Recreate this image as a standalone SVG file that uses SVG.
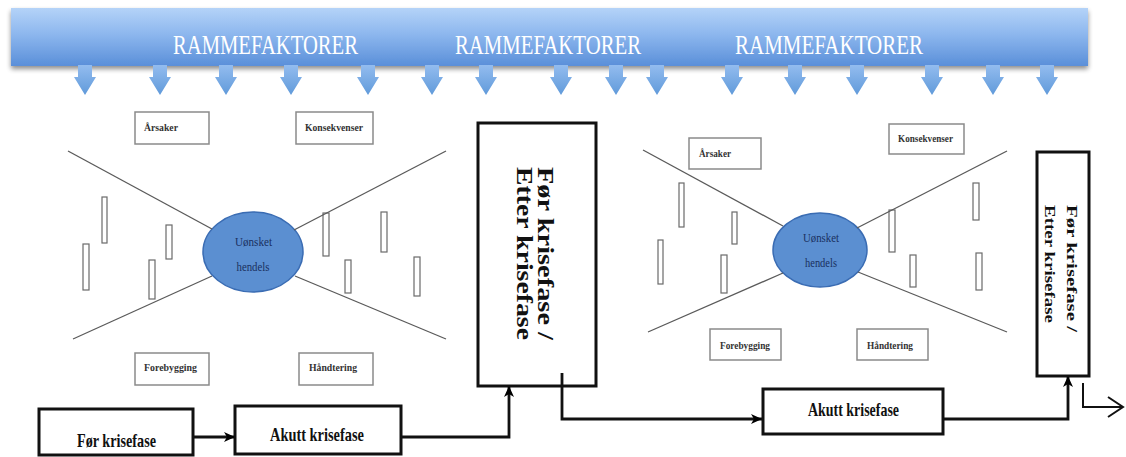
<svg xmlns="http://www.w3.org/2000/svg" width="1126" height="457" viewBox="0 0 1126 457">
<defs>
<linearGradient id="bannerGrad" x1="0" y1="0" x2="0" y2="1">
<stop offset="0" stop-color="#b4d3f8"/>
<stop offset="0.45" stop-color="#8db7ee"/>
<stop offset="1" stop-color="#5a8fd9"/>
</linearGradient>
<linearGradient id="arrowGrad" x1="0" y1="0" x2="0" y2="1">
<stop offset="0" stop-color="#93bcef"/>
<stop offset="1" stop-color="#609ada"/>
</linearGradient>
<filter id="shadow" x="-5%" y="-20%" width="110%" height="150%">
<feGaussianBlur in="SourceAlpha" stdDeviation="2.5"/>
<feOffset dx="0" dy="3" result="b"/>
<feComponentTransfer><feFuncA type="linear" slope="0.45"/></feComponentTransfer>
<feMerge><feMergeNode/><feMergeNode in="SourceGraphic"/></feMerge>
</filter>
<marker id="ah" markerUnits="userSpaceOnUse" markerWidth="12" markerHeight="12" viewBox="0 0 12 12" refX="11" refY="6" orient="auto">
<path d="M0,1 L11,6 L0,11 L3,6 z" fill="#000"/>
</marker>
<path id="dArrow" d="M-7,0 h14 v12 h4 l-11,18 l-11,-18 h4 z"/>
</defs>
<style>
.ban{font-family:"Liberation Serif",serif;font-size:28px;fill:#ffffff}
.sbox{fill:#fff;stroke:#8a8a8a;stroke-width:1.5}
.slab{font-family:"Liberation Serif",serif;font-weight:bold;font-size:10.5px;fill:#333}
.bar{fill:#fff;stroke:#6a6a6a;stroke-width:1.2}
.ell{fill:#5b8fd1;stroke:#3a6cb3;stroke-width:1.5}
.elab{font-family:"Liberation Serif",serif;font-size:12.5px;fill:#1a3060;text-anchor:middle}
.big{fill:#fff;stroke:#111;stroke-width:3}
.blab{font-family:"Liberation Serif",serif;font-weight:bold;font-size:19px;fill:#111}
.vlab{font-family:"Liberation Serif",serif;font-weight:bold;fill:#111}
.bow{fill:none;stroke:#5a5a5a;stroke-width:1.3}
.flow{fill:none;stroke:#111;stroke-width:2.8}
.thin{fill:none;stroke:#111;stroke-width:2}
</style>

<g id="banner">
<rect x="11" y="8" width="1077" height="58" fill="url(#bannerGrad)" filter="url(#shadow)"/>
<text class="ban" x="173" y="54" textLength="185" lengthAdjust="spacingAndGlyphs">RAMMEFAKTORER</text>
<text class="ban" x="455" y="54" textLength="186" lengthAdjust="spacingAndGlyphs">RAMMEFAKTORER</text>
<text class="ban" x="735" y="54" textLength="188" lengthAdjust="spacingAndGlyphs">RAMMEFAKTORER</text>
<g fill="url(#arrowGrad)">
<use href="#dArrow" x="85" y="65"/>
<use href="#dArrow" x="160" y="65"/>
<use href="#dArrow" x="226" y="65"/>
<use href="#dArrow" x="291" y="65"/>
<use href="#dArrow" x="368" y="65"/>
<use href="#dArrow" x="432" y="65"/>
<use href="#dArrow" x="486" y="65"/>
<use href="#dArrow" x="561" y="65"/>
<use href="#dArrow" x="616" y="65"/>
<use href="#dArrow" x="657" y="65"/>
<use href="#dArrow" x="732" y="65"/>
<use href="#dArrow" x="795" y="65"/>
<use href="#dArrow" x="857" y="65"/>
<use href="#dArrow" x="932" y="65"/>
<use href="#dArrow" x="993" y="65"/>
<use href="#dArrow" x="1047" y="65"/>
</g>
</g>

<!-- Left bowtie -->
<g id="arsaker-1"><rect class="sbox" x="135" y="112" width="74" height="32"/><text class="slab" x="144" y="131" textLength="34" lengthAdjust="spacingAndGlyphs">Årsaker</text></g>
<g id="konsekvenser-1"><rect class="sbox" x="296" y="112" width="77" height="32"/><text class="slab" x="305" y="131" textLength="58" lengthAdjust="spacingAndGlyphs">Konsekvenser</text></g>
<g id="forebygging-1"><rect class="sbox" x="135" y="353" width="74" height="32"/><text class="slab" x="144" y="371" textLength="53" lengthAdjust="spacingAndGlyphs">Forebygging</text></g>
<g id="handtering-1"><rect class="sbox" x="299" y="353" width="74" height="32"/><text class="slab" x="309" y="371" textLength="48" lengthAdjust="spacingAndGlyphs">Håndtering</text></g>
<g id="barriers-1">
<rect class="bar" x="102" y="197" width="5" height="46"/>
<rect class="bar" x="83" y="244" width="6" height="46"/>
<rect class="bar" x="166" y="225" width="6" height="34"/>
<rect class="bar" x="149" y="260" width="6" height="39"/>
<rect class="bar" x="323" y="213" width="6" height="43"/>
<rect class="bar" x="381" y="212" width="6" height="40"/>
<rect class="bar" x="345" y="260" width="6" height="33"/>
<rect class="bar" x="414" y="257" width="6" height="39"/>
</g>
<g id="uonsket-1"><ellipse class="ell" cx="253" cy="252" rx="50" ry="40"/><text class="elab" x="253.5" y="246" textLength="37" lengthAdjust="spacingAndGlyphs">Uønsket</text><text class="elab" x="253" y="271" textLength="33" lengthAdjust="spacingAndGlyphs">hendels</text></g>

<!-- Phase box 1 -->
<g id="fase-1"><rect class="big" x="478" y="123" width="118" height="263"/>
<text class="vlab" font-size="24" transform="translate(538,167) rotate(90)" textLength="173" lengthAdjust="spacingAndGlyphs">Før krisefase /</text>
<text class="vlab" font-size="24" transform="translate(517,167) rotate(90)" textLength="173" lengthAdjust="spacingAndGlyphs">Etter krisefase</text>
</g>

<!-- Right bowtie -->
<g id="arsaker-2"><rect class="sbox" x="689" y="138" width="72" height="31"/><text class="slab" x="699" y="157" textLength="32" lengthAdjust="spacingAndGlyphs">Årsaker</text></g>
<g id="konsekvenser-2"><rect class="sbox" x="889" y="124" width="75" height="30"/><text class="slab" x="898" y="142" textLength="55" lengthAdjust="spacingAndGlyphs">Konsekvenser</text></g>
<g id="forebygging-2"><rect class="sbox" x="710" y="329" width="71" height="31"/><text class="slab" x="720" y="349" textLength="50" lengthAdjust="spacingAndGlyphs">Forebygging</text></g>
<g id="handtering-2"><rect class="sbox" x="857" y="329" width="71" height="31"/><text class="slab" x="867" y="349" textLength="46" lengthAdjust="spacingAndGlyphs">Håndtering</text></g>
<g id="barriers-2">
<rect class="bar" x="679" y="183" width="5" height="44"/>
<rect class="bar" x="732" y="212" width="5" height="32"/>
<rect class="bar" x="658" y="240" width="5" height="44"/>
<rect class="bar" x="721" y="255" width="6" height="38"/>
<rect class="bar" x="889" y="210" width="6" height="42"/>
<rect class="bar" x="973" y="183" width="6" height="37"/>
<rect class="bar" x="910" y="255" width="6" height="32"/>
<rect class="bar" x="976" y="253" width="6" height="37"/>
</g>
<g id="uonsket-2"><ellipse class="ell" cx="820" cy="250" rx="47" ry="37"/><text class="elab" x="821" y="242" textLength="36" lengthAdjust="spacingAndGlyphs">Uønsket</text><text class="elab" x="821" y="267" textLength="32" lengthAdjust="spacingAndGlyphs">hendels</text></g>

<!-- Phase box 2 -->
<g id="fase-2"><rect class="big" x="1037" y="152" width="52" height="224"/>
<text class="vlab" font-size="15" transform="translate(1067,205) rotate(90)" textLength="127" lengthAdjust="spacingAndGlyphs">Før krisefase /</text>
<text class="vlab" font-size="15" transform="translate(1045,205) rotate(90)" textLength="118" lengthAdjust="spacingAndGlyphs">Etter krisefase</text>
</g>

<!-- Bottom flow boxes -->
<g id="for-krisefase"><rect class="big" x="39" y="409" width="154" height="46"/><text class="blab" x="77" y="447" textLength="79" lengthAdjust="spacingAndGlyphs">Før krisefase</text></g>
<g id="akutt-1"><rect class="big" x="235" y="406" width="166" height="48"/><text class="blab" x="270" y="441" textLength="94" lengthAdjust="spacingAndGlyphs">Akutt krisefase</text></g>
<g id="akutt-2"><rect class="big" x="763" y="389" width="180" height="45"/><text class="blab" x="808" y="416" textLength="91" lengthAdjust="spacingAndGlyphs">Akutt krisefase</text></g>

<g id="connectors">
<line class="bow" x1="68" y1="151" x2="212" y2="229"/>
<line class="bow" x1="446" y1="151" x2="294" y2="230"/>
<line class="bow" x1="73" y1="339" x2="212" y2="276"/>
<line class="bow" x1="446" y1="339" x2="295" y2="276"/>
<line class="bow" x1="643" y1="150" x2="783" y2="226"/>
<line class="bow" x1="1007" y1="151" x2="857" y2="228"/>
<line class="bow" x1="648" y1="332" x2="783" y2="273"/>
<line class="bow" x1="1007" y1="332" x2="858" y2="272"/>
<path class="flow" d="M193,437 H235" marker-end="url(#ah)"/>
<path class="flow" d="M401,437 H509 V386" marker-end="url(#ah)"/>
<path class="flow" d="M562,373 V419 H762" marker-end="url(#ah)"/>
<path class="flow" d="M943,419 H1068 V376" marker-end="url(#ah)"/>
<path class="thin" d="M1083,383 V407 H1123"/>
<path class="thin" d="M1108,397 L1123,407 L1108,417"/>
</g>
</svg>
